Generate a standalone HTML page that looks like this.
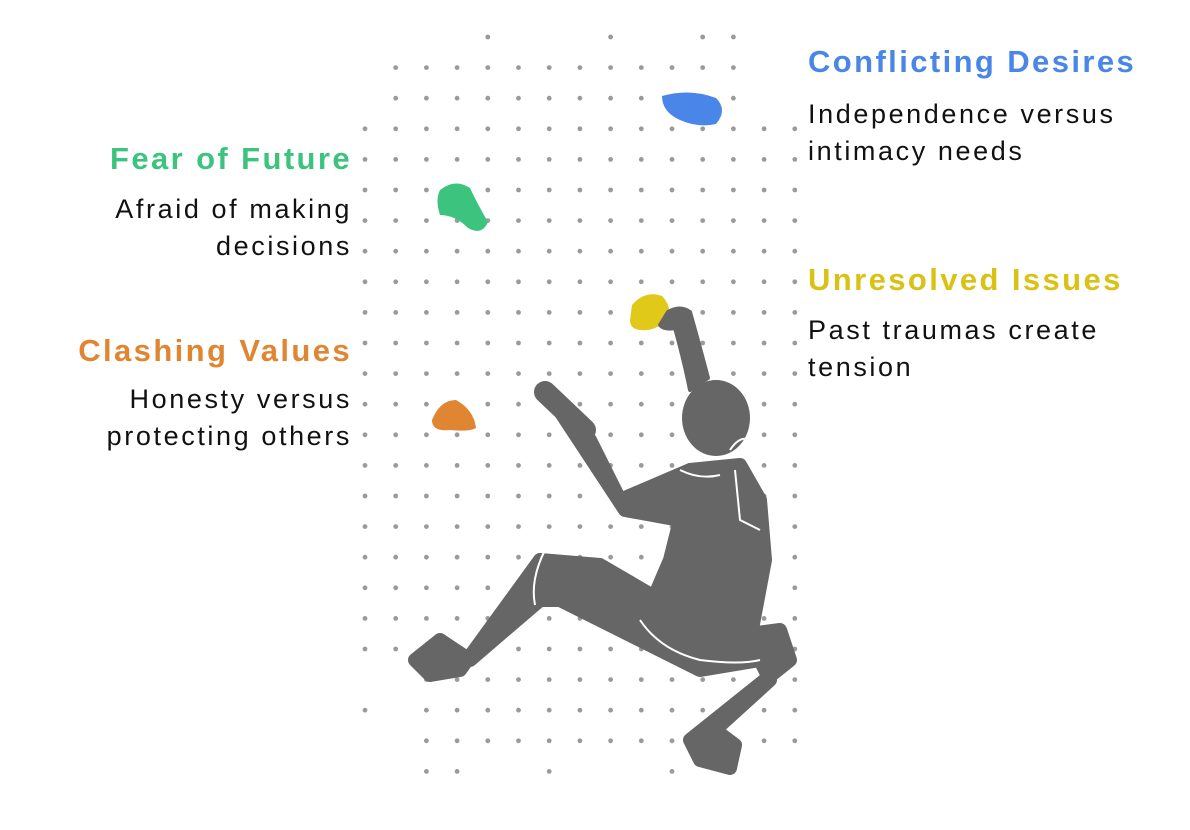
<!DOCTYPE html>
<html><head><meta charset="utf-8"><style>
body{margin:0;width:1190px;height:830px;background:#fff;overflow:hidden;position:relative;font-family:"Liberation Sans",sans-serif}
.t{position:absolute;font-weight:bold;font-size:31px;letter-spacing:2.4px;white-space:nowrap}
.b{position:absolute;font-size:27px;letter-spacing:2.6px;line-height:37px;color:#111;white-space:nowrap}
.r{text-align:right;right:838px}
.l{left:808px}
</style></head><body>
<svg width="1190" height="830" style="position:absolute;left:0;top:0">
<g id="dots" fill="#9a9a9a"></g>
<path d="M662 96 Q690 88 716 98 Q728 110 716 124 Q698 128 680 120 Q662 112 662 96Z" fill="#4a86e8"/>
<path d="M440 190 Q455 178 470 188 Q478 205 488 222 Q482 236 468 228 Q455 215 440 215 Q435 200 440 190Z" fill="#3cc47e"/>
<path d="M632 305 Q645 290 662 296 Q672 306 668 318 Q660 328 648 330 Q630 332 630 320Z" fill="#e0c918"/>
<path d="M432 420 Q440 400 456 400 Q474 410 476 428 Q470 432 450 430 Q432 432 432 420Z" fill="#e08632"/>
<g fill="#666" stroke="#666" stroke-linejoin="round" stroke-linecap="round">
<path d="M668 312 Q680 305 690 312 Q698 340 708 378 L690 390 Q684 360 675 328 Q664 330 660 325Z" stroke-width="4"/>
<ellipse cx="716" cy="418" rx="34" ry="38" stroke="none"/>
<path d="M548 393 L590 440 L620 500 L690 470 L740 465 L760 500 L765 560 L750 640 L640 630 L670 560 L680 520 L625 510 Z" stroke-width="14"/>
<path d="M545 392 L585 430" stroke-width="22"/>
<path d="M540 560 L600 565 L660 600 L700 640 L780 630 L790 660 L740 700 L690 740 L700 760 L730 768 L735 745 L715 730 L770 680 L760 660 L700 670 L640 640 L560 600 L540 600 L470 660 L440 640 L415 660 L430 675 L460 670 Z" stroke-width="14"/>
</g>
<g fill="none" stroke="#fff" stroke-width="2">
<path d="M545 550 Q530 580 535 605"/>
<path d="M640 620 Q660 650 700 660 Q740 665 760 660"/>
<path d="M680 470 Q700 480 720 475 M735 470 L740 520 L760 530"/>
<path d="M730 450 Q740 435 750 440"/>
</g>
</svg>
<div class="t l" style="top:44px;color:#4a86e8">Conflicting Desires</div>
<div class="b l" style="top:96px">Independence versus<br>intimacy needs</div>
<div class="t r" style="top:141px;color:#3cc47e">Fear of Future</div>
<div class="b r" style="top:191px">Afraid of making<br>decisions</div>
<div class="t l" style="top:262px;color:#d8c215">Unresolved Issues</div>
<div class="b l" style="top:312px">Past traumas create<br>tension</div>
<div class="t r" style="top:333px;color:#e08632">Clashing Values</div>
<div class="b r" style="top:381px">Honesty versus<br>protecting others</div>
<script>
var g=document.getElementById('dots'),s='';
for(var j=0;j<25;j++)for(var i=0;i<15;i++){
var x=365+i*30.7,y=37+j*30.6;
if(j<3&&(i<1||i>12))continue;
if(j==0&&[4,8,11,12].indexOf(i)<0)continue;
if(j>20&&(i<2)&&!(i==0&&(j==22)))continue;
if(j==24&&[2,3,6,10].indexOf(i)<0)continue;
s+='<circle cx="'+x+'" cy="'+y+'" r="2.4"/>';}
g.innerHTML=s;
</script>
</body></html>
